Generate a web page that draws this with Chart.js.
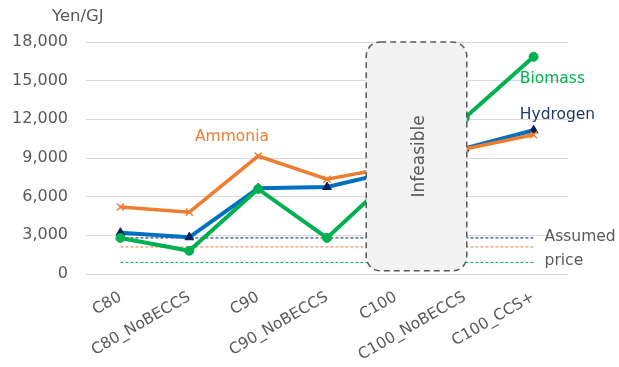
<!DOCTYPE html>
<html>
<head>
<meta charset="utf-8">
<script src="https://cdn.jsdelivr.net/npm/chart.js@4"></script>
<style>
  html, body { margin: 0; padding: 0; background: #fff; }
  #wrap { width: 619px; height: 367px; position: relative; }
</style>
</head>
<body>
<div id="wrap"><canvas id="chartCost"></canvas></div>
<script>
const categories = ['C80', 'C80_NoBECCS', 'C90', 'C90_NoBECCS', 'C100', 'C100_NoBECCS', 'C100_CCS+'];
const ammonia = [5200, 4800, 9150, 7350, 8350, 9700, 10800];
const hydrogen = [3200, 2850, 6650, 6750, 8000, 9750, 11150];
const biomass = [2800, 1800, 6600, 2800, 7750, 12100, 16850];
const priceHydrogen = [2800, 2800, 2800, 2800, 2800, 2800, 2800];
const priceAmmonia = [2100, 2100, 2100, 2100, 2100, 2100, 2100];
const priceBiomass = [900, 900, 900, 900, 900, 900, 900];
const yTicks = [0, 3000, 6000, 9000, 12000, 15000, 18000];

const FONT = '"DejaVu Sans", Verdana, sans-serif';
const GREY = '#595959';

// rounded dashed box + text labels, placed with the chart's scales
const notes = {
    id: 'notes',
    afterDatasetsDraw(chart) {
        const ctx = chart.ctx;
        const x = chart.scales.x, y = chart.scales.y;
        const l = x.getPixelForValue(3.57), r = x.getPixelForValue(5.03);
        const t = y.getPixelForValue(18000), b = y.getPixelForValue(250);
        ctx.save();
        ctx.beginPath();
        ctx.roundRect(l, t, r - l, b - t, 14);
        ctx.fillStyle = '#f2f2f2';
        ctx.fill();
        ctx.setLineDash([6, 4]);
        ctx.lineWidth = 1.5;
        ctx.strokeStyle = GREY;
        ctx.stroke();
        ctx.setLineDash([]);

        ctx.fillStyle = GREY;
        ctx.font = '17px ' + FONT;
        ctx.textAlign = 'center';
        ctx.textBaseline = 'middle';
        ctx.translate((l + r) / 2 + 3, (t + b) / 2);
        ctx.rotate(-Math.PI / 2);
        ctx.fillText('Infeasible', 0, 0);
        ctx.restore();

        ctx.save();
        ctx.font = '15.5px ' + FONT;
        ctx.textBaseline = 'middle';
        ctx.textAlign = 'center';
        ctx.fillStyle = '#ED7D31';
        ctx.fillText('Ammonia', x.getPixelForValue(1.62), y.getPixelForValue(10600));
        ctx.textAlign = 'left';
        ctx.fillStyle = '#00B050';
        ctx.fillText('Biomass', x.getPixelForValue(5.8), y.getPixelForValue(15100));
        ctx.fillStyle = '#1F3864';
        ctx.fillText('Hydrogen', x.getPixelForValue(5.8), y.getPixelForValue(12350));
        ctx.fillStyle = GREY;
        ctx.fillText('Assumed', x.getPixelForValue(6.16), y.getPixelForValue(2900));
        ctx.fillText('price', x.getPixelForValue(6.16), y.getPixelForValue(1000));
        ctx.font = '16.5px ' + FONT;
        ctx.fillText('Yen/GJ', 52, 17);
        ctx.restore();
    }
};

const ctxCost = document.getElementById('chartCost');
const chartCost = new Chart(ctxCost, {
    type: 'line',
    data: {
        labels: categories,
        datasets: [{
            label: 'Biomass',
            data: biomass,
            borderColor: '#00B050',
            backgroundColor: '#00B050',
            borderWidth: 4,
            pointStyle: 'circle',
            pointRadius: 4.5,
            pointBorderWidth: 1,
            order: 0
        }, {
            label: 'Ammonia',
            data: ammonia,
            borderColor: '#ED7D31',
            backgroundColor: '#ED7D31',
            borderWidth: 3.5,
            pointStyle: 'crossRot',
            pointRadius: 5,
            pointBorderWidth: 1.5,
            order: 1
        }, {
            label: 'Hydrogen',
            data: hydrogen,
            borderColor: '#0070C0',
            backgroundColor: '#002060',
            borderWidth: 4,
            pointStyle: 'triangle',
            pointRadius: 5,
            pointBorderWidth: 1,
            pointBorderColor: '#002060',
            order: 2
        }, {
            label: 'Hydrogen price',
            data: priceHydrogen,
            borderColor: '#002060',
            backgroundColor: '#002060',
            borderWidth: 1,
            borderDash: [3, 2],
            pointRadius: 0,
            order: 3
        }, {
            label: 'Ammonia price',
            data: priceAmmonia,
            borderColor: '#ED7D31',
            backgroundColor: '#ED7D31',
            borderWidth: 1,
            borderDash: [3, 2],
            pointRadius: 0,
            order: 3
        }, {
            label: 'Biomass price',
            data: priceBiomass,
            borderColor: '#00B050',
            backgroundColor: '#00B050',
            borderWidth: 1,
            borderDash: [3, 2],
            pointRadius: 0,
            order: 3
        }]
    },
    options: {
        responsive: true,
        maintainAspectRatio: false,
        animation: false,
        layout: { padding: { top: 42, right: 51, bottom: 0, left: 0 } },
        plugins: {
            legend: { display: false },
            tooltip: { enabled: false }
        },
        scales: {
            x: {
                offset: true,
                afterFit(scale) { scale.height = 93; },
                grid: { display: false, drawTicks: false },
                border: { display: false },
                ticks: {
                    color: GREY,
                    font: { family: FONT, size: 15.5 },
                    minRotation: 30,
                    maxRotation: 30,
                    padding: 14
                }
            },
            y: {
                min: 0,
                max: 18000,
                afterBuildTicks(scale) {
                    scale.ticks = yTicks.map(v => ({ value: v }));
                },
                afterFit(scale) { scale.width = 86; },
                grid: { color: '#d9d9d9', drawTicks: false },
                border: { display: false },
                ticks: {
                    color: GREY,
                    font: { family: FONT, size: 16 },
                    padding: 18,
                    callback: v => v.toLocaleString('en-US')
                }
            }
        }
    },
    plugins: [notes]
});
</script>
</body>
</html>
